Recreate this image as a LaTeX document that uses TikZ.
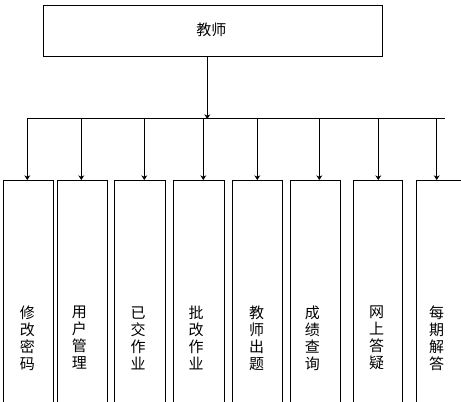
\documentclass[tikz,border=0pt]{standalone}
\usepackage{fontspec}
\newfontfamily\cjk{Noto Sans CJK SC}
\usetikzlibrary{arrows.meta}
\begin{document}
\begin{tikzpicture}[x=0.75pt,y=-0.75pt,
  box/.style={draw=black,line width=0.75pt,inner sep=0pt,anchor=north west},
  lbl/.style={font=\cjk\fontsize{11.25}{12.75}\selectfont,align=center,inner sep=0pt,text=black},
  conn/.style={line width=0.75pt},
  arr/.style={line width=0.75pt,-{Stealth[length=3.5pt,width=4.5pt]}}]
\useasboundingbox (0,0) rectangle (461,402);
\clip (0,0) rectangle (461,402);
% top box
\node[box,minimum width=338.4*0.75pt,minimum height=51*0.75pt] (teacher) at (43.3,5.3) {};
\node[lbl] (tt) at (211.3,30) {教师};
% bus
\coordinate (drop) at (207.3,119);
\coordinate (busL) at (27.3,119);
\coordinate (busR) at (445,119);
\draw[arr] (teacher.south -| drop) -- (drop);
\draw[conn] (busL) -- (busR);
% child boxes
\foreach \i/\l/\r/\ax/\tx/\txt in {
  1/2.7/53.3/27.3/27.3/修\\改\\密\\码,
  2/57.3/107.3/81.3/79.3/用\\户\\管\\理,
  3/114.3/165.3/144.3/138.0/已\\交\\作\\业,
  4/173.3/224.0/203.3/196.0/批\\改\\作\\业,
  5/231.7/282.3/257.3/256.7/教\\师\\出\\题,
  6/290.3/340.3/319.3/312.3/成\\绩\\查\\询,
  7/352.7/402.3/378.3/376.7/网\\上\\答\\疑,
  8/415.7/480.0/436.7/436.7/每\\期\\解\\答}{
  \node[box,minimum width=(\r-\l)*0.75pt,minimum height=300*0.75pt] (b\i) at (\l,180) {};
  \coordinate (a\i) at (\ax,119);
  \draw[arr] (a\i) -- (a\i |- b\i.north);
  \node[lbl] (t\i) at (\tx,338) {\txt};
}
\end{tikzpicture}
\end{document}
